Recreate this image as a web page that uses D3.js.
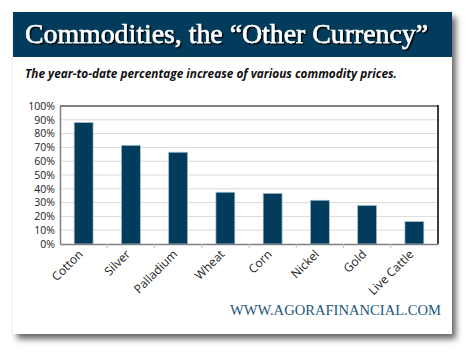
<!DOCTYPE html>
<html>
<head>
<meta charset="utf-8">
<script src="https://cdn.jsdelivr.net/npm/d3@7"></script>
<style>
  body { margin: 0; background: #fff; }
</style>
</head>
<body>
<div id="chart"></div>
<script>
var categories = ["Cotton", "Silver", "Palladium", "Wheat", "Corn", "Nickel", "Gold", "Live Cattle"];
var values = [88, 71.5, 66.5, 37.5, 36.7, 31.7, 28, 16.2];
var yTicks = [0, 10, 20, 30, 40, 50, 60, 70, 80, 90, 100];

var width = 470, height = 354;

var svg = d3.select("#chart")
    .append("svg")
    .attr("width", width)
    .attr("height", height);

var defs = svg.append("defs");

// card shadow
var shadow = defs.append("filter").attr("id", "cardShadow")
    .attr("x", "-10%").attr("y", "-10%").attr("width", "130%").attr("height", "130%");
shadow.append("feGaussianBlur").attr("in", "SourceAlpha").attr("stdDeviation", 3);
shadow.append("feOffset").attr("dx", 4).attr("dy", 5).attr("result", "blur");
shadow.append("feComponentTransfer").append("feFuncA").attr("type", "linear").attr("slope", 0.6);
var merge = shadow.append("feMerge");
merge.append("feMergeNode");
merge.append("feMergeNode").attr("in", "SourceGraphic");

// title shadow
var tShadow = defs.append("filter").attr("id", "titleShadow");
tShadow.append("feDropShadow").attr("dx", 1.5).attr("dy", 1.5)
    .attr("stdDeviation", 0.6).attr("flood-color", "#000").attr("flood-opacity", 0.9);

// card
svg.append("rect")
    .attr("x", 13).attr("y", 12)
    .attr("width", 439).attr("height", 322)
    .attr("fill", "#fff")
    .attr("filter", "url(#cardShadow)");

// header band
svg.append("rect")
    .attr("x", 13).attr("y", 12)
    .attr("width", 439).attr("height", 45)
    .attr("fill", "#023b5b");

svg.append("text")
    .attr("x", 25).attr("y", 43)
    .attr("fill", "#fff")
    .attr("stroke", "#fff")
    .attr("stroke-width", 0.5)
    .attr("font-family", "Liberation Serif, serif")
    .attr("font-size", 27)
    .attr("textLength", 403)
    .attr("lengthAdjust", "spacingAndGlyphs")
    .attr("filter", "url(#titleShadow)")
    .text("Commodities, the \u201COther Currency\u201D");

svg.append("text")
    .attr("x", 25).attr("y", 78)
    .attr("fill", "#111")
    .attr("font-family", "Open Sans, sans-serif")
    .attr("font-size", 12)
    .attr("font-weight", "bold")
    .attr("font-style", "italic")
    .attr("textLength", 372)
    .attr("lengthAdjust", "spacingAndGlyphs")
    .text("The year-to-date percentage increase of various commodity prices.");

// plot area
var plotLeft = 60, plotRight = 438, plotTop = 106, plotBottom = 244;

var x = d3.scaleBand()
    .domain(categories)
    .range([plotLeft, plotRight])
    .paddingInner(0.6)
    .paddingOuter(0.3);

var y = d3.scaleLinear()
    .domain([0, 100])
    .range([plotBottom, plotTop]);

// gridlines
svg.append("g")
    .selectAll("line")
    .data(yTicks.slice(1, -1))
    .join("line")
    .attr("x1", plotLeft).attr("x2", plotRight)
    .attr("y1", d => y(d)).attr("y2", d => y(d))
    .attr("stroke", "#d9d9d9")
    .attr("stroke-width", 1);

// top and right border
svg.append("line")
    .attr("x1", plotLeft).attr("x2", plotRight)
    .attr("y1", y(100)).attr("y2", y(100))
    .attr("stroke", "#808080").attr("stroke-width", 2);
svg.append("line")
    .attr("x1", plotRight).attr("x2", plotRight)
    .attr("y1", y(100) - 1).attr("y2", plotBottom)
    .attr("stroke", "#000").attr("stroke-width", 1.5);

// bars
svg.append("g")
    .selectAll("rect")
    .data(values)
    .join("rect")
    .attr("x", (d, i) => x(categories[i]))
    .attr("y", d => y(d))
    .attr("width", x.bandwidth())
    .attr("height", d => plotBottom - y(d))
    .attr("fill", "#023b5b")
    .attr("stroke", "#a9c0cf")
    .attr("stroke-width", 0.7);

// y axis
var yAxis = svg.append("g")
    .attr("transform", `translate(${plotLeft},0)`)
    .call(d3.axisLeft(y).tickValues(yTicks).tickFormat(d => d + "%").tickSize(0).tickPadding(5));
yAxis.select(".domain").attr("stroke", "#808080").attr("stroke-width", 1.5);
yAxis.selectAll("text")
    .attr("font-family", "Open Sans, sans-serif")
    .attr("font-size", 10.5)
    .attr("fill", "#222");

// x axis
var step = x.step();
var xAxis = svg.append("g")
    .attr("transform", `translate(0,${plotBottom})`)
    .call(d3.axisBottom(x).tickSize(0).tickSizeOuter(0));
xAxis.select(".domain").attr("stroke", "#808080").attr("stroke-width", 1.5);
xAxis.selectAll(".tick text")
    .attr("font-family", "Open Sans, sans-serif")
    .attr("font-size", 12)
    .attr("fill", "#222")
    .attr("text-anchor", "end")
    .attr("y", 0)
    .attr("dy", 0)
    .attr("transform", "translate(0,11) rotate(-45)");

// category separator ticks
svg.append("g")
    .selectAll("line")
    .data(categories.slice(1))
    .join("line")
    .attr("x1", d => x(d) - (step - x.bandwidth()) / 2)
    .attr("x2", d => x(d) - (step - x.bandwidth()) / 2)
    .attr("y1", plotBottom).attr("y2", plotBottom + 4)
    .attr("stroke", "#bfbfbf");

// footer
svg.append("text")
    .attr("x", 441).attr("y", 315)
    .attr("text-anchor", "end")
    .attr("fill", "#23577d")
    .attr("font-family", "Liberation Serif, serif")
    .attr("font-size", 14)
    .attr("textLength", 211)
    .attr("lengthAdjust", "spacingAndGlyphs")
    .text("WWW.AGORAFINANCIAL.COM");
</script>
</body>
</html>
